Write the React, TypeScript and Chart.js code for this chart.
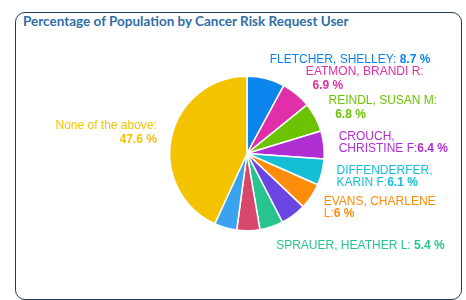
import React, { useEffect, useRef } from "react";
import { Chart, registerables } from "chart.js";

Chart.register(...registerables);

// ---- data ----
const users = [
  "FLETCHER, SHELLEY",
  "EATMON, BRANDI R",
  "REINDL, SUSAN M",
  "CROUCH, CHRISTINE F",
  "DIFFENDERFER, KARIN F",
  "EVANS, CHARLENE L",
  "Other user 1",
  "SPRAUER, HEATHER L",
  "Other user 2",
  "Other user 3",
  "None of the above",
];
const percents = [8.7, 6.9, 6.8, 6.4, 6.1, 6, 5.9, 5.4, 5.3, 5.2, 47.6];
// label text as displayed (wrapped), value appended to the last line
const labelTexts = [
  "FLETCHER, SHELLEY: ",
  "EATMON, BRANDI R:\n  ",
  "REINDL, SUSAN M:\n  ",
  "CROUCH,\nCHRISTINE F:",
  "DIFFENDERFER,\nKARIN F:",
  "EVANS, CHARLENE\nL:",
  "",
  "SPRAUER, HEATHER L: ",
  "",
  "",
  "None of the above:\n",
];
const showLabel = [true, true, true, true, true, true, false, true, false, false, true];
const sliceColors = [
  "#0c84ee",
  "#e02fa8",
  "#6cc304",
  "#b12ed3",
  "#14bfd5",
  "#fd8c0a",
  "#6a45e2",
  "#27c48f",
  "#d9476c",
  "#3aa2ef",
  "#f4c300",
];

const LABEL_FONT = '"Liberation Sans", Arial, sans-serif';

const outLabels = {
  id: "outLabels",
  afterDatasetsDraw(chart: any) {
    const meta = chart.getDatasetMeta(0);
    const ctx = chart.ctx as CanvasRenderingContext2D;
    ctx.save();
    ctx.textBaseline = "middle";
    meta.data.forEach((arc: any, i: number) => {
      if (!showLabel[i]) return;
      const p = arc.getProps(["x", "y", "startAngle", "endAngle", "outerRadius"], true);
      const mid = (p.startAngle + p.endAngle) / 2;
      const c = Math.cos(mid);
      const s = Math.sin(mid);
      const ax = p.x + c * (p.outerRadius + 15);
      const ay = p.y + s * (p.outerRadius + 20);
      const right = c >= 0;
      const lines = labelTexts[i].split("\n");
      const valueText = `${percents[i]} %`;
      const n = lines.length;
      const lh = 12;
      const heights: number[] = [];
      for (let j = 0; j < n; j++) {
        heights.push(j === 0 ? 0 : lines[j].trim() === "" ? lh + 2 : lh);
      }
      const total = heights.reduce((a, b) => a + b, 0);
      let y = ay - total / 2;
      const color = sliceColors[i];
      ctx.fillStyle = color;
      lines.forEach((ln, j) => {
        y += heights[j];
        const isLast = j === n - 1;
        ctx.font = `12px ${LABEL_FONT}`;
        const w1 = ctx.measureText(ln).width;
        ctx.font = `bold 12px ${LABEL_FONT}`;
        const w2 = isLast ? ctx.measureText(valueText).width : 0;
        const sx = right ? ax : ax - (w1 + w2);
        ctx.textAlign = "left";
        ctx.font = `12px ${LABEL_FONT}`;
        ctx.fillText(ln, sx, y);
        if (isLast) {
          ctx.font = `bold 12px ${LABEL_FONT}`;
          ctx.fillText(valueText, sx + w1, y);
        }
      });
    });
    ctx.restore();
  },
};

export default function App() {
  const ref = useRef<HTMLCanvasElement | null>(null);
  useEffect(() => {
    if (!ref.current) return;
    const chart = new Chart(ref.current, {
      type: "pie",
      data: {
        labels: users,
        datasets: [
          {
            data: percents,
            backgroundColor: sliceColors,
            borderColor: "#ffffff",
            borderWidth: 1.5,
          },
        ],
      },
      options: {
        animation: false,
        responsive: false,
        layout: { padding: { left: 169, right: 141, top: 75.5, bottom: 68.5 } },
        plugins: {
          legend: { display: false },
          tooltip: { enabled: false },
          title: { display: false },
        },
      },
      plugins: [outLabels],
    });
    return () => chart.destroy();
  }, []);

  return (
    <div style={{ position: "fixed", left: 0, top: 0, width: 466, height: 300, background: "#fff", overflow: "hidden" }}>
      <div
        style={{
          position: "absolute",
          left: 15,
          top: 12,
          width: 447,
          height: 288,
          boxSizing: "border-box",
          border: "1.5px solid #1c3b58",
          borderRadius: 10,
        }}
      />
      <div
        style={{
          position: "absolute",
          left: 23,
          top: 12,
          height: 18,
          lineHeight: "18px",
          fontFamily: "Lato, sans-serif",
          fontWeight: 700,
          fontSize: 13.5,
          color: "#2f6ea6",
          whiteSpace: "nowrap",
        }}
      >
        Percentage of Population by Cancer Risk Request User
      </div>
      <canvas ref={ref} width={466} height={300} style={{ position: "absolute", left: 0, top: 0 }} />
    </div>
  );
}
